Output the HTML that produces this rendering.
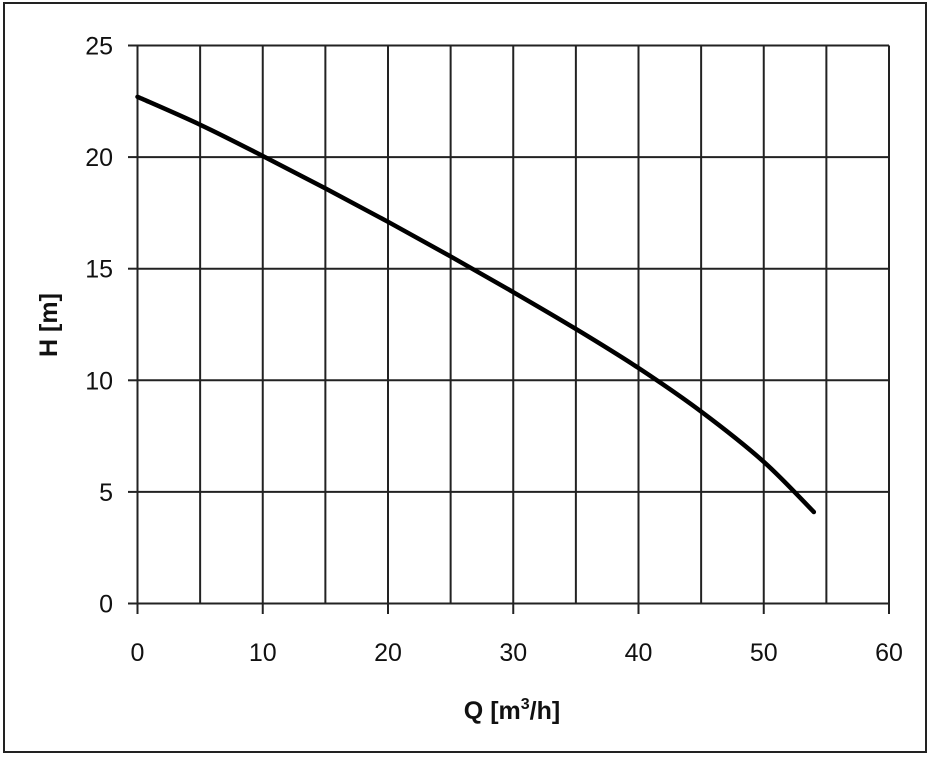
<!DOCTYPE html>
<html><head><meta charset="utf-8"><style>
body{margin:0;background:#fff;}
svg text{font-family:"Liberation Sans",Arial,sans-serif;fill:#111;}
</style></head><body>
<svg width="930" height="757" viewBox="0 0 930 757">
<rect x="4" y="3" width="922" height="749" fill="#fff" stroke="#222" stroke-width="2"/>
<g id="grid"></g><g id="ticks"></g><g id="labels"></g>
<path id="curve" fill="none" stroke="#000" stroke-width="4.5" stroke-linecap="round"/>
<text x="512" y="719" font-size="25" font-weight="bold" text-anchor="middle">Q [m<tspan font-size="16" dy="-10">3</tspan><tspan dy="10">/h]</tspan></text>
<text transform="translate(57,325) rotate(-90)" font-size="25" font-weight="bold" text-anchor="middle">H [m]</text>
</svg>
<script>
const flows=[0,5,10,15,20,25,30,35,40,45,50,54];
const heads=[22.7,21.45,20.05,18.6,17.1,15.55,13.95,12.3,10.55,8.6,6.35,4.1];
const xTicks=[0,10,20,30,40,50,60];
const yTicks=[0,5,10,15,20,25];
const x0=137.5,x1=889,y0=603.5,y1=45.5;
const sx=v=>x0+(x1-x0)*v/60, sy=v=>y0-(y0-y1)*v/25;
const NS="http://www.w3.org/2000/svg";
const grid=document.getElementById('grid'),ticks=document.getElementById('ticks'),labels=document.getElementById('labels');
function ln(p,a,b,c,d,w){const l=document.createElementNS(NS,'line');l.setAttribute('x1',a);l.setAttribute('y1',b);l.setAttribute('x2',c);l.setAttribute('y2',d);l.setAttribute('stroke','#222');l.setAttribute('stroke-width',w);p.appendChild(l);return l;}
for(let v=0;v<=60;v+=5){const l=ln(grid,sx(v),y1,sx(v),y0,2);

}
for(let v=0;v<=25;v+=5){const l=ln(grid,x0,sy(v),x1,sy(v),2);

}
xTicks.forEach(v=>{const t=ln(ticks,sx(v),y0,sx(v),614,2);


const s=document.createElementNS(NS,'text');s.setAttribute('x',sx(v));s.setAttribute('y',661);s.setAttribute('font-size','25');s.setAttribute('text-anchor','middle');s.textContent=v;


labels.appendChild(s);});
yTicks.forEach(v=>{const t=ln(ticks,128,sy(v),x0,sy(v),2);


const s=document.createElementNS(NS,'text');s.setAttribute('x',113);s.setAttribute('y',sy(v)+9);s.setAttribute('font-size','25');s.setAttribute('text-anchor','end');s.textContent=v;


labels.appendChild(s);});
const pts=flows.map((q,i)=>[sx(q),sy(heads[i])]);
let d='M'+pts[0][0]+','+pts[0][1];
for(let i=0;i<pts.length-1;i++){const p0=pts[i-1]||pts[i],p1=pts[i],p2=pts[i+1],p3=pts[i+2]||p2;
d+=` C${p1[0]+(p2[0]-p0[0])/6},${p1[1]+(p2[1]-p0[1])/6} ${p2[0]-(p3[0]-p1[0])/6},${p2[1]-(p3[1]-p1[1])/6} ${p2[0]},${p2[1]}`;}
document.getElementById('curve').setAttribute('d',d);
</script>
</body></html>
